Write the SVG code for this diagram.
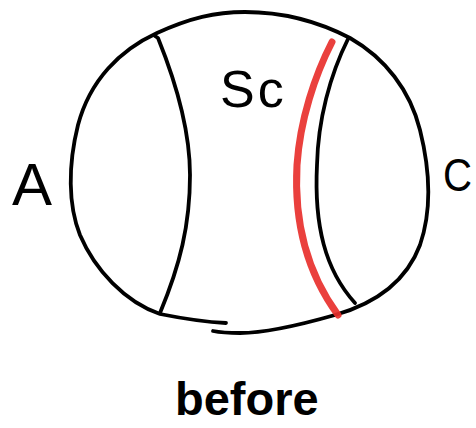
<svg xmlns="http://www.w3.org/2000/svg" width="476" height="428" viewBox="0 0 476 428">
<style>
.ink{fill:none;stroke:#000;stroke-width:3.8;stroke-linecap:round;stroke-linejoin:round}
.red{fill:none;stroke:#e8302c;stroke-width:7;stroke-linecap:round;opacity:0.92}
.lbl{font-family:"Liberation Sans",Arial,sans-serif;fill:#000}
</style>
<rect width="476" height="428" fill="#fff"/>
<g id="outline">
<path class="ink" d="M 226,323 C 205,322 180,318 160,314 C 125,302 95,270 80,235 C 68,205 68,165 78,125 C 90,80 120,50 157,33 C 190,18 215,12 245,12 C 290,12 325,25 350,38 C 385,58 410,90 420,130 C 430,170 432,210 420,245 C 405,285 370,305 335,315 C 300,325 265,333 240,333 C 228,333 218,332 213,331"/>
</g>
<g id="left-boundary">
<path class="ink" d="M 155,36 L 158,38 C 175,80 190,130 190,175 C 190,225 180,265 160,313"/>
</g>
<g id="red-boundary">
<path class="red" d="M 332,42 C 315,75 300,120 297,165 C 294,220 305,270 338,315"/>
</g>
<g id="right-boundary">
<path class="ink" d="M 348,39 C 330,75 318,120 317,165 C 314,225 325,270 355,303"/>
</g>
<g id="labels">
<text class="lbl" x="12" y="205" font-size="60">A</text>
<text class="lbl" x="220" y="107" font-size="52" letter-spacing="3">Sc</text>
<text class="lbl" x="443" y="191" font-size="46" textLength="29" lengthAdjust="spacingAndGlyphs">C</text>
<text class="lbl" x="175" y="415" font-size="47" font-weight="bold">before</text>
</g>
</svg>
